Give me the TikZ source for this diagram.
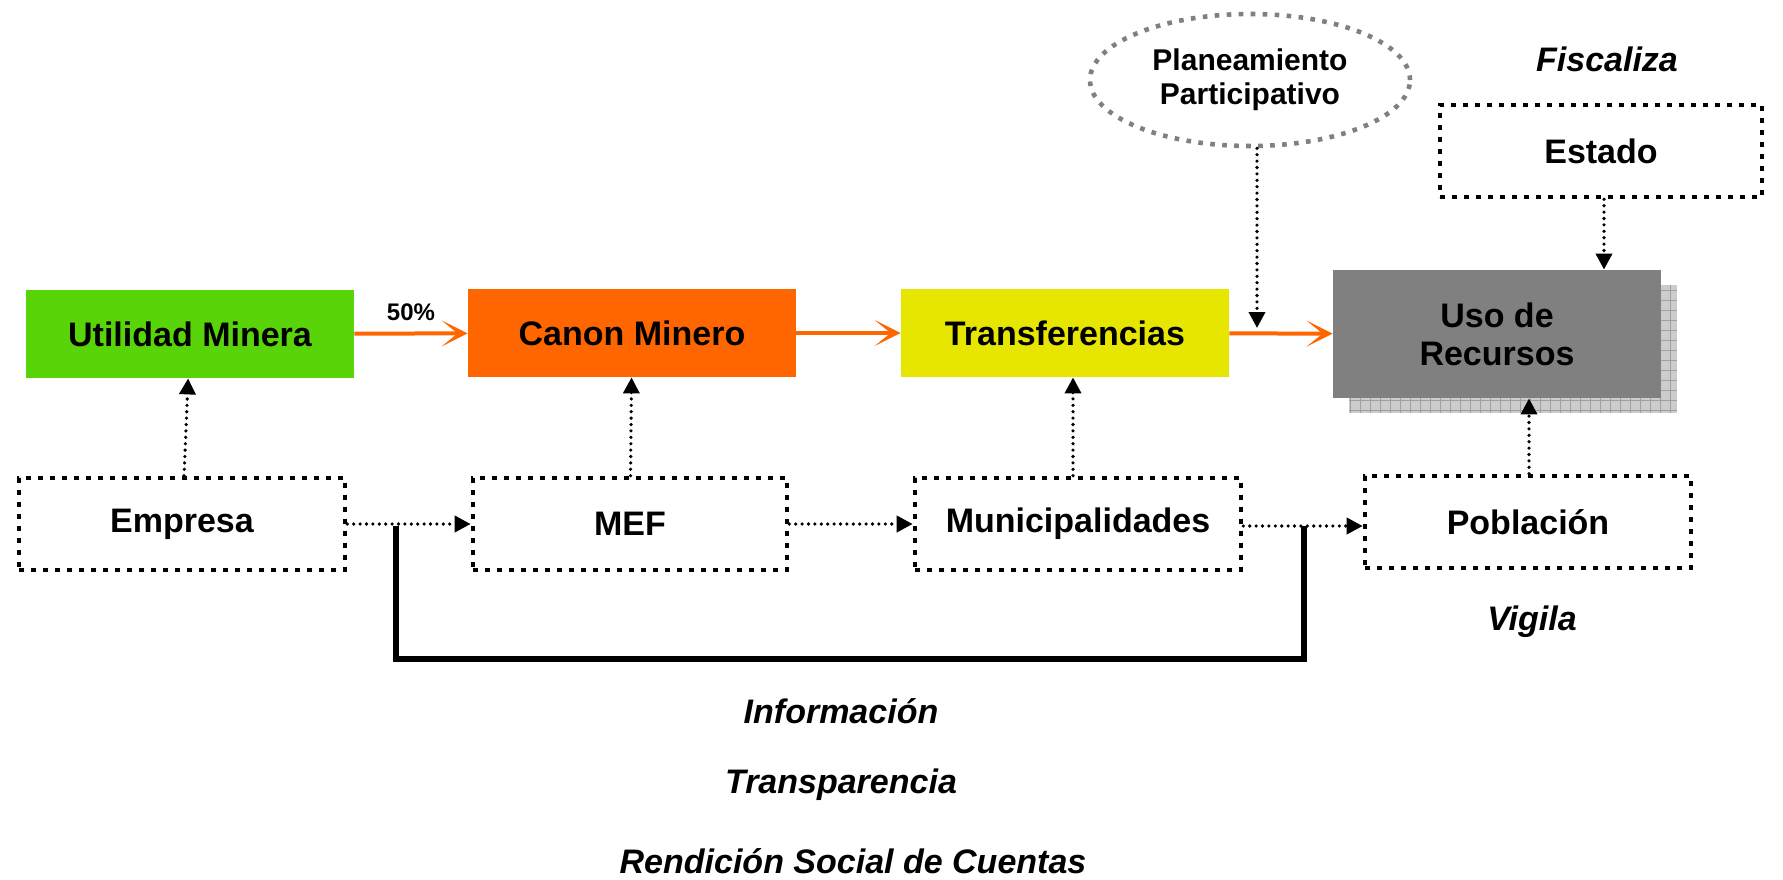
\documentclass[tikz,border=0pt]{standalone}
\usepackage{fontspec}
\setmainfont{Liberation Sans}
\usetikzlibrary{arrows.meta,shapes.geometric}

\definecolor{verde}{RGB}{88,212,8}
\definecolor{naranja}{RGB}{255,102,0}
\definecolor{amarillo}{RGB}{230,230,0}
\definecolor{gris}{RGB}{128,128,128}

\tikzset{
    caja/.style={minimum width=164pt, minimum height=44pt, inner sep=0pt,
        font=\fontsize{17}{19}\selectfont\bfseries},
    actor/.style={draw, line width=2.3pt, dash pattern=on 2.3pt off 3.7pt,
        minimum width=163pt, minimum height=46pt, inner sep=0pt,
        font=\fontsize{17}{19}\selectfont\bfseries},
    flujo/.style={draw=naranja, line width=2pt,
        -{Stealth[length=13pt,width=13pt,inset=8pt]}},
    punteado/.style={line width=1.8pt, line cap=round, dash pattern=on 0pt off 3.2pt,
        -{Triangle[length=8pt,width=8pt]}},
    etiqueta/.style={font=\fontsize{17}{19}\selectfont\bfseries\itshape},
}

\begin{document}
\begin{tikzpicture}[x=0.5pt, y=-0.5pt]
    \useasboundingbox (0,0) rectangle (1783,879);

    % offset of the shadow
    \def\dx{16};
    \def\dy{15};

% upper row
    \node[caja, fill=verde] (utl) at (190,334) {Utilidad Minera};
    \node[caja, fill=naranja] (can) at (632,333) {Canon Minero};
    \node[caja, fill=amarillo] (trf) at (1065,333) {Transferencias};

% Uso de Recursos with shadow
    \fill[gray!40] (1333+\dx,270+\dy) rectangle (1661+\dx,398+\dy);
    \draw[gray!75, line width=0.4pt, step=5pt] (1333+\dx,270+\dy) grid (1661+\dx,398+\dy);
    \node[caja, fill=gris, minimum height=64pt, align=center] (uso) at (1497,334) {Uso de\\Recursos};

% lower row
    \node[actor] (emp) at (182,524) {Empresa};
    \node[actor, minimum width=157pt] (mef) at (630,524) {MEF};
    \node[actor] (mun) at (1078,524) {Municipalidades};
    \node[actor] (pob) at (1528,522) {Población};

% Estado, Planeamiento
    \node[actor, minimum width=161pt] (est) at (1601,151) {Estado};
    \node[ellipse, draw=gris, line width=2.3pt, dash pattern=on 2.3pt off 3.7pt,
        minimum width=160pt, minimum height=66pt, inner sep=0pt, align=center,
        font=\fontsize{15}{17}\selectfont\bfseries] (plan) at (1250,80) {Planeamiento\\Participativo};

% flow of money
    \draw[flujo] (utl) -- node[above=2pt, font=\fontsize{12}{14}\selectfont\bfseries] (pct) {50\%} (can);
    \draw[flujo] (can) -- (trf);
    \draw[flujo] (trf) -- (uso);

% actors
    \draw[punteado] (emp) -- (utl);
    \draw[punteado] (mef) -- (can);
    \draw[punteado] (mun.north -| 1073,0) -- (trf.south -| 1073,0);
    \draw[punteado] (pob.north -| 1529,0) -- (uso.south -| 1529,0);
    \draw[punteado] (est.south -| 1604,0) -- (uso.north -| 1604,0);
    \coordinate (pp) at (1257,328);
    \draw[punteado] (plan.south -| pp) -- (pp);

    \draw[punteado] (emp) -- (mef);
    \draw[punteado] (mef) -- (mun);
    \draw[punteado] (mun.east |- 0,526) -- (pob.west |- 0,526);

% bracket
    \coordinate (bl) at (396,526);
    \coordinate (br) at (1304,526);
    \draw[line width=2.6pt] (bl) -- (bl |- 0,659) -| (br);

% labels
    \node[etiqueta] (fis) at (1607,59) {Fiscaliza};
    \node[etiqueta] (vig) at (1532,622) {Vigila};
    \node[etiqueta] (inf) at (841,711) {Información};
    \node[etiqueta] (tra) at (841,785) {Transparencia};
    \node[etiqueta] (ren) at (853,861) {Rendición Social de Cuentas};

\end{tikzpicture}
\end{document}
